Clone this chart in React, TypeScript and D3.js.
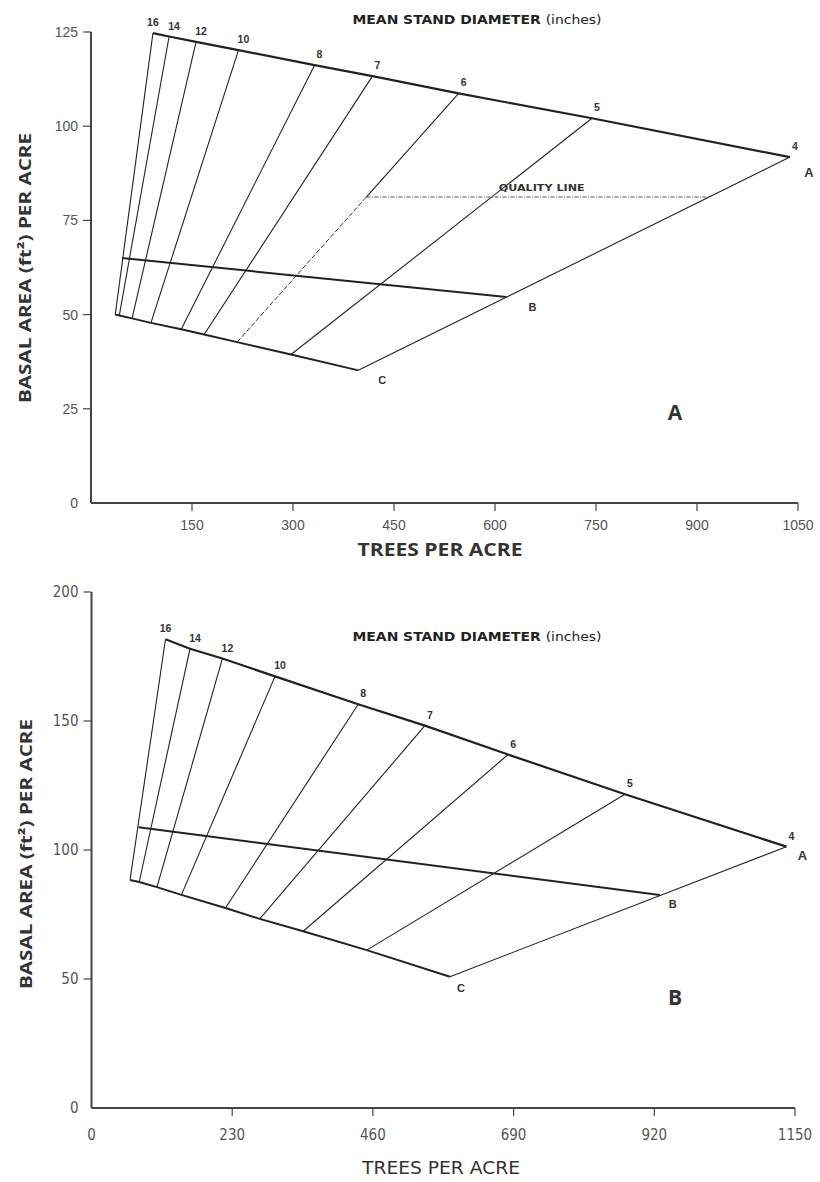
import React from "react";
import * as d3 from "d3";

const diameters = ["16", "14", "12", "10", "8", "7", "6", "5", "4"];

// Chart A: upper (A) line, lower (C) line, middle (B) line
const aTopTrees = [92, 116, 156, 219, 332, 418, 546, 744, 1038];
const aTopBasal = [124.7, 123.8, 122.4, 120.2, 116.2, 113.3, 108.7, 102.1, 91.8];
const aLowTrees = [36, 42, 61, 89, 134, 168, 217, 297, 397];
const aLowBasal = [50, 49.75, 49, 47.8, 46.1, 44.7, 42.7, 39.4, 35.2];
const aMidTrees = [46, 617];
const aMidBasal = [65, 54.7];
const aQualityTrees = [409, 918];
const aQualityBasal = [81.2, 81.2];
const aXTicks = [150, 300, 450, 600, 750, 900, 1050];
const aYTicks = [0, 25, 50, 75, 100, 125];

// Chart B
const bTopTrees = [121, 161, 214, 300, 436, 545, 681, 872, 1136];
const bTopBasal = [181.7, 178, 174.2, 167.3, 156.5, 148.2, 137, 121.6, 101.3];
const bLowTrees = [63, 78, 107, 147, 219, 275, 346, 450, 586];
const bLowBasal = [88.4, 87.6, 85.6, 82.6, 77.5, 73.3, 68.5, 61.2, 50.9];
const bMidTrees = [77, 929];
const bMidBasal = [108.8, 82.6];
const bXTicks = [0, 230, 460, 690, 920, 1150];
const bYTicks = [0, 50, 100, 150, 200];

const SANS = "'Liberation Sans', Arial, sans-serif";
const NARROW = "'Liberation Sans Narrow', 'DejaVu Sans Condensed', 'Liberation Sans', Arial, sans-serif";
const TITLE = "'Open Sans', 'Liberation Sans', sans-serif";

function Panel(props: any) {
  const {
    topTrees, topBasal, lowTrees, lowBasal, midTrees, midBasal,
    quality, xTicks, yTicks, xMax, yMax, box, letter, letterPos,
    titleY, yTitleCenter, xTitle, tickFont, endOff, bOff, cOff,
  } = props;

  const x = d3.scaleLinear().domain([0, xMax]).range([box.left, box.right]);
  const y = d3.scaleLinear().domain([0, yMax]).range([box.bottom, box.top]);
  const line = d3.line<[number, number]>().x((d) => x(d[0])).y((d) => y(d[1]));

  const last = diameters.length - 1;

  // diameter lines (the 6-inch line is dashed below the quality line)
  const diamLines = diameters.map((dm, i) => {
    const p0: [number, number] = [topTrees[i], topBasal[i]];
    const p1: [number, number] = [lowTrees[i], lowBasal[i]];
    if (quality && dm === "6") {
      const t = (p0[1] - quality.basal[0]) / (p0[1] - p1[1]);
      const pm: [number, number] = [p0[0] + (p1[0] - p0[0]) * t, quality.basal[0]];
      return (
        <g key={dm}>
          <path d={line([p0, pm]) || ""} stroke="#222" strokeWidth={1.1} fill="none" />
          <path d={line([pm, p1]) || ""} stroke="#333" strokeWidth={1} strokeDasharray="5,2" fill="none" />
        </g>
      );
    }
    return <path key={dm} d={line([p0, p1]) || ""} stroke="#222" strokeWidth={1.1} fill="none" />;
  });

  const topPts = topTrees.map((t: number, i: number) => [t, topBasal[i]] as [number, number]);
  const lowPts = lowTrees.map((t: number, i: number) => [t, lowBasal[i]] as [number, number]);
  const midPts = midTrees.map((t: number, i: number) => [t, midBasal[i]] as [number, number]);

  const ax = x(topTrees[last]);
  const ay = y(topBasal[last]);
  const bx = x(midTrees[1]);
  const by = y(midBasal[1]);
  const cx = x(lowTrees[last]);
  const cy = y(lowBasal[last]);

  return (
    <g>
      {/* axes */}
      <line x1={box.left} x2={box.left} y1={box.top} y2={box.bottom} stroke="#444" strokeWidth={2} />
      <line x1={box.left} x2={box.right} y1={box.bottom} y2={box.bottom} stroke="#444" strokeWidth={2} />
      {yTicks.map((t: number) => (
        <g key={"y" + t}>
          {t !== 0 && <line x1={box.left - 8} x2={box.left} y1={y(t)} y2={y(t)} stroke="#444" strokeWidth={1.2} />}
          <text x={box.left - 13} y={y(t) + 5} textAnchor="end" fontFamily={tickFont.family}
            fontSize={tickFont.size} fill="#555">{t}</text>
        </g>
      ))}
      {xTicks.map((t: number) => (
        <g key={"x" + t}>
          {t !== 0 && <line x1={x(t)} x2={x(t)} y1={box.bottom} y2={box.bottom + 8} stroke="#444" strokeWidth={1.2} />}
          <text x={x(t)} y={box.bottom + tickFont.dy} textAnchor="middle" fontFamily={tickFont.family}
            fontSize={tickFont.size} fill="#555">{t}</text>
        </g>
      ))}

      {/* stocking guide */}
      {diamLines}
      <path d={line(topPts) || ""} stroke="#222" strokeWidth={2.2} fill="none" />
      <path d={line(lowPts) || ""} stroke="#222" strokeWidth={2} fill="none" />
      <path d={line(midPts) || ""} stroke="#222" strokeWidth={2} fill="none" />

      {quality && (
        <g>
          <path d={line([[quality.trees[0], quality.basal[0]], [quality.trees[1], quality.basal[1]]]) || ""}
            stroke="#555" strokeWidth={1} strokeDasharray="4,1.5,1,1.5" fill="none" />
          <text x={(x(quality.trees[0]) + x(quality.trees[1])) / 2 + 4} y={y(quality.basal[0]) - 6}
            textAnchor="middle" fontFamily={NARROW} fontWeight="bold" fontSize={8.5} fill="#333"
            textLength={86} lengthAdjust="spacingAndGlyphs">QUALITY LINE</text>
        </g>
      )}

      {/* diameter labels */}
      {diameters.map((dm, i) => (
        <text key={"l" + dm} x={x(topTrees[i]) + (i === 0 ? 0 : 5)} y={y(topBasal[i]) - 7}
          textAnchor="middle" fontFamily={SANS} fontWeight="bold" fontSize={10.5} fill="#333">{dm}</text>
      ))}
      <text x={ax + endOff[0]} y={ay + endOff[1]} textAnchor="middle" fontFamily={SANS}
        fontWeight="bold" fontSize={13} fill="#333">A</text>
      <text x={bx + bOff[0]} y={by + bOff[1]} textAnchor="middle" fontFamily={SANS}
        fontWeight="bold" fontSize={11} fill="#333">B</text>
      <text x={cx + cOff[0]} y={cy + cOff[1]} textAnchor="middle" fontFamily={SANS}
        fontWeight="bold" fontSize={11} fill="#333">C</text>

      {/* titles */}
      <text x={477} y={titleY} textAnchor="middle" fontFamily={NARROW} fontSize={11.5} fill="#222"
        textLength={249} lengthAdjust="spacingAndGlyphs">
        <tspan fontWeight="bold">MEAN STAND DIAMETER </tspan>
        <tspan>(inches)</tspan>
      </text>
      <text transform={`translate(${yTitleCenter[0]},${yTitleCenter[1]}) rotate(-90)`} textAnchor="middle"
        fontFamily={TITLE} fontWeight="bold" fontSize={16} fill="#333" textLength={270}
        lengthAdjust="spacingAndGlyphs">BASAL AREA (ft²) PER ACRE</text>
      <text x={xTitle.x} y={xTitle.y} textAnchor="middle" fontFamily={xTitle.family}
        fontWeight={xTitle.weight} fontSize={17} fill="#333" textLength={xTitle.len}
        lengthAdjust="spacingAndGlyphs">TREES PER ACRE</text>
      <text x={letterPos[0]} y={letterPos[1]} textAnchor="middle" fontFamily={TITLE} fontWeight="bold"
        fontSize={21} fill="#333">{letter}</text>
    </g>
  );
}

export default function App() {
  return (
    <svg width={820} height={1182} style={{ position: "absolute", left: 0, top: 0, background: "#fff" }}>
      <rect width={820} height={1182} fill="#fff" />
      <Panel
        topTrees={aTopTrees} topBasal={aTopBasal}
        lowTrees={aLowTrees} lowBasal={aLowBasal}
        midTrees={aMidTrees} midBasal={aMidBasal}
        quality={{ trees: aQualityTrees, basal: aQualityBasal }}
        xTicks={aXTicks} yTicks={aYTicks} xMax={1050} yMax={125}
        box={{ left: 91, right: 798, top: 32, bottom: 503 }}
        letter="A" letterPos={[675, 420]}
        titleY={24} yTitleCenter={[31, 268]}
        xTitle={{ x: 440, y: 556, family: TITLE, weight: "bold", len: 165 }}
        tickFont={{ family: SANS, size: 14, dy: 27 }}
        endOff={[19, 20]} bOff={[26, 14]} cOff={[24, 14]}
      />
      <Panel
        topTrees={bTopTrees} topBasal={bTopBasal}
        lowTrees={bLowTrees} lowBasal={bLowBasal}
        midTrees={bMidTrees} midBasal={bMidBasal}
        quality={null}
        xTicks={bXTicks} yTicks={bYTicks} xMax={1150} yMax={200}
        box={{ left: 91.5, right: 795, top: 592, bottom: 1108 }}
        letter="B" letterPos={[675, 1005]}
        titleY={641} yTitleCenter={[32, 854]}
        xTitle={{ x: 441, y: 1174, family: NARROW, weight: "normal", len: 158 }}
        tickFont={{ family: NARROW, size: 15, dy: 32 }}
        endOff={[16, 13]} bOff={[13, 13]} cOff={[11, 15]}
      />
    </svg>
  );
}
